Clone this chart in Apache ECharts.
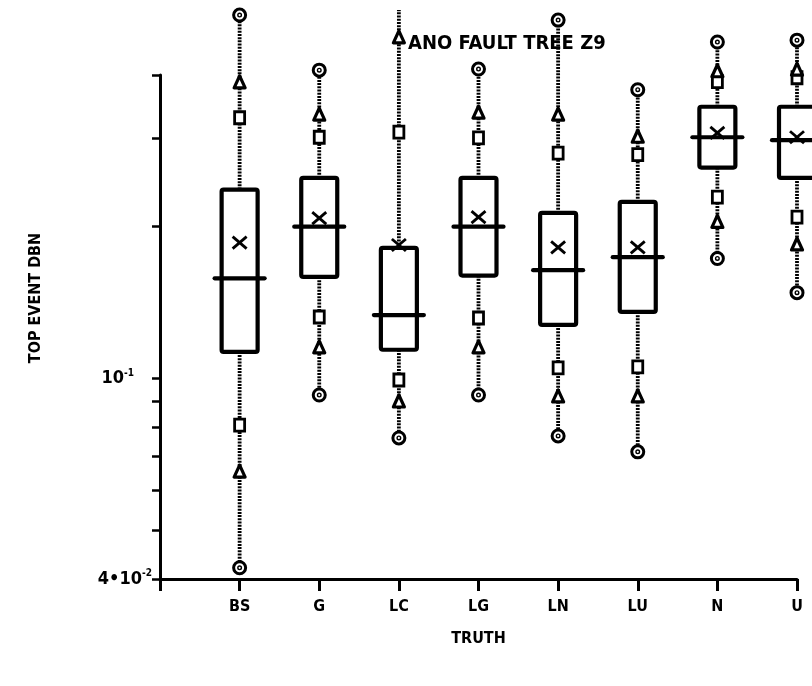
<!DOCTYPE html>
<html><head><meta charset="utf-8">
<script src="https://cdn.jsdelivr.net/npm/echarts@6/dist/echarts.min.js"></script>
<style>html,body{margin:0;padding:0;background:#fff}#c{width:812px;height:686px}</style>
</head><body><div id="c"></div>
<script>
// ---- data ----
const categories   = ['BS', 'G', 'LC', 'LG', 'LN', 'LU', 'N', 'U'];
const circleHigh   = [0.526, 0.409, 0.62, 0.411, 0.514, 0.374, 0.465, 0.469];
const triangleHigh = [0.386, 0.333, 0.474, 0.336, 0.333, 0.301, 0.406, 0.409];
const squareHigh   = [0.329, 0.301, 0.308, 0.300, 0.280, 0.278, 0.388, 0.395];
const q3           = [0.237, 0.250, 0.1815, 0.250, 0.213, 0.224, 0.346, 0.346];
const mean         = [0.186, 0.208, 0.184, 0.209, 0.182, 0.182, 0.307, 0.301];
const median       = [0.158, 0.200, 0.1336, 0.200, 0.164, 0.174, 0.301, 0.297];
const q1           = [0.1129, 0.159, 0.114, 0.160, 0.1277, 0.1355, 0.262, 0.250];
const squareLow    = [0.0808, 0.1324, 0.0993, 0.1318, 0.1049, 0.1054, 0.229, 0.209];
const triangleLow  = [0.0652, 0.115, 0.0898, 0.115, 0.0919, 0.0919, 0.204, 0.184];
const circleLow    = [0.0421, 0.0927, 0.0762, 0.0927, 0.0769, 0.0715, 0.173, 0.148];

const yTickValues    = [0.04, 0.05, 0.06, 0.07, 0.08, 0.09, 0.1, 0.2, 0.3, 0.4];
const yLabelValues   = [0.04, 0.1];
const yLabelMantissa = ['4\u202210', '10'];
const yLabelExponent = ['-2', '-1'];
const titleText = 'ANO FAULT TREE Z9';
const xName = 'TRUTH';
const yName = 'TOP EVENT DBN';
const visibleTop = 0.538; // plot is cut off above this value

// ---- build ----
const rows = categories.map((c, i) => [i + 1, circleHigh[i], triangleHigh[i], squareHigh[i], q3[i], mean[i], median[i], q1[i], squareLow[i], triangleLow[i], circleLow[i]]);
const FONT = '"DejaVu Sans Condensed", "DejaVu Sans", sans-serif';
const BLK = '#000';

function renderItem(params, api) {
  const x = api.value(0);
  const pt = v => api.coord([x, v]);
  const cx = pt(api.value(6))[0];
  const y = v => pt(v)[1];
  const ch = [];
  const dash = { stroke: BLK, lineWidth: 3.8, lineDash: [2, 1.2] };
  const hiVal = Math.min(api.value(1), visibleTop);
  ch.push({ type: 'line', shape: { x1: cx, y1: y(api.value(4)), x2: cx, y2: y(hiVal) }, style: dash });
  ch.push({ type: 'line', shape: { x1: cx, y1: y(api.value(7)), x2: cx, y2: y(api.value(10)) }, style: dash });
  const yt = y(api.value(4)), yb = y(api.value(7));
  ch.push({ type: 'rect', shape: { x: cx - 18, y: yt, width: 36, height: yb - yt, r: 2 }, style: { fill: '#fff', stroke: BLK, lineWidth: 4.2 } });
  const ym = y(api.value(6));
  ch.push({ type: 'line', shape: { x1: cx - 25, y1: ym, x2: cx + 25, y2: ym }, style: { stroke: BLK, lineWidth: 4.2, lineCap: 'round' } });
  const ymn = y(api.value(5));
  ch.push({ type: 'line', shape: { x1: cx - 7, y1: ymn - 6, x2: cx + 7, y2: ymn + 6 }, style: { stroke: BLK, lineWidth: 2.8 } });
  ch.push({ type: 'line', shape: { x1: cx - 7, y1: ymn + 6, x2: cx + 7, y2: ymn - 6 }, style: { stroke: BLK, lineWidth: 2.8 } });
  const circle = v => {
    const cy = y(v);
    ch.push({ type: 'circle', shape: { cx: cx, cy: cy, r: 6 }, style: { fill: '#fff', stroke: BLK, lineWidth: 3 } });
    ch.push({ type: 'circle', shape: { cx: cx, cy: cy, r: 1.8 }, style: { fill: '#fff', stroke: BLK, lineWidth: 1.4 } });
  };
  const tri = v => {
    const cy = y(v);
    ch.push({ type: 'polygon', shape: { points: [[cx, cy - 7], [cx - 5.5, cy + 5], [cx + 5.5, cy + 5]] }, style: { fill: '#fff', stroke: BLK, lineWidth: 3.2, lineJoin: 'round' } });
  };
  const sq = v => {
    const cy = y(v);
    ch.push({ type: 'rect', shape: { x: cx - 5, y: cy - 6, width: 10, height: 12 }, style: { fill: '#fff', stroke: BLK, lineWidth: 2.8 } });
  };
  if (api.value(1) <= visibleTop) circle(api.value(1));
  sq(api.value(3)); tri(api.value(2));
  sq(api.value(8)); tri(api.value(9));
  circle(api.value(10));
  return { type: 'group', children: ch };
}

const chart = echarts.init(document.getElementById('c'), null, { renderer: 'canvas' });
chart.setOption({
  backgroundColor: '#fff',
  animation: false,
  title: { text: titleText, left: 403, top: 29, textStyle: { fontFamily: FONT, fontSize: 20, fontWeight: 'bold', color: BLK } },
  grid: { left: 160, right: 15, top: 75, bottom: 107 },
  xAxis: {
    type: 'category', data: [''].concat(categories), boundaryGap: false,
    axisLine: { lineStyle: { color: BLK, width: 3 } },
    axisTick: { length: 12, interval: 0, lineStyle: { color: BLK, width: 3 } },
    axisLabel: { interval: 0, margin: 20, fontFamily: FONT, fontSize: 16, fontWeight: 'bold', color: BLK },
    name: xName, nameLocation: 'middle', nameGap: 52,
    nameTextStyle: { fontFamily: FONT, fontSize: 16, fontWeight: 'bold', color: BLK },
    splitLine: { show: false }
  },
  yAxis: {
    type: 'log', logBase: 10, min: 0.04, max: 0.4,
    axisLine: { show: true, lineStyle: { color: BLK, width: 3 } },
    axisTick: { show: true, customValues: yTickValues, length: 8, lineStyle: { color: BLK, width: 2.5 } },
    axisLabel: {
      customValues: yLabelValues, margin: 8, color: BLK,
      formatter: function (v) {
        const i = yLabelValues.findIndex(t => Math.abs(t - v) / t < 1e-6);
        if (i < 0) return '';
        return '{b|' + yLabelMantissa[i] + '}{s|' + yLabelExponent[i] + '}' + (i === 1 ? '{g|}' : '');
      },
      rich: {
        b: { fontFamily: FONT, fontSize: 18, fontWeight: 'bold', color: BLK },
        s: { fontFamily: FONT, fontSize: 10, fontWeight: 'bold', color: BLK, padding: [0, 0, 11, 0] },
        g: { width: 18 }
      }
    },
    splitLine: { show: false },
    name: yName, nameLocation: 'middle', nameGap: 116, nameRotate: 90,
    nameTextStyle: { fontFamily: FONT, fontSize: 16, fontWeight: 'bold', color: BLK, padding: [0, 0, 0, 58] }
  },
  series: [{
    type: 'custom', clip: false, renderItem: renderItem,
    encode: { x: 0, y: [1, 2, 3, 4, 5, 6, 7, 8, 9, 10] },
    data: rows, z: 5
  }]
});
</script></body></html>
